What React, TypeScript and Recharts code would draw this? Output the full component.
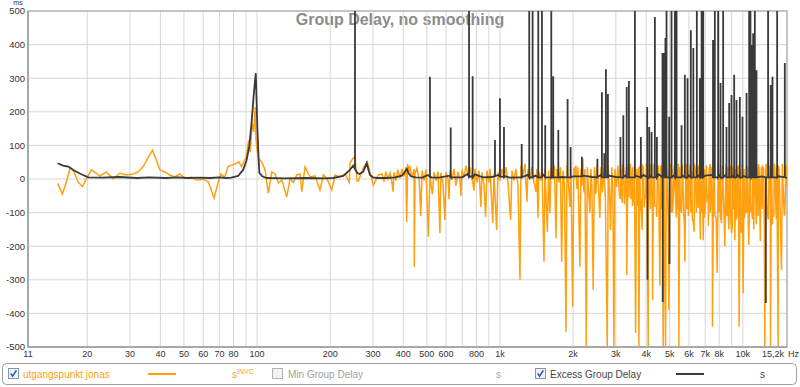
import React from 'react';
import { LineChart, Line, XAxis, YAxis, CartesianGrid, ReferenceArea } from 'recharts';

// frequency axis (Hz) - grid at every decade step, labels only on some
const freqTicks = [11.4, 20, 30, 40, 50, 60, 70, 80, 90, 100, 200, 300, 400, 500, 600, 700, 800, 900, 1000, 2000, 3000, 4000, 5000, 6000, 7000, 8000, 9000, 10000, 15200];
const freqLabels = ['11', '20', '30', '40', '50', '60', '70', '80', '', '100', '200', '300', '400', '500', '600', '', '800', '', '1k', '2k', '3k', '4k', '5k', '6k', '7k', '8k', '', '10k', '15,2k'];
const freqUnit = 'Hz';
const msTicks = [-500, -400, -300, -200, -100, 0, 100, 200, 300, 400, 500];

// utgangspunkt jonas: [Hz, ms]
const orangeLow: [number, number][] = [
  [15.1, -13], [15.8, -45], [16.4, -8], [17.0, 34], [17.5, 27], [18.3, -8], [19.1, -23], [19.8, 0], [20.8, 27], [21.8, 17],
  [22.5, 9], [24.0, 21], [25.5, 0], [27.2, 17], [29.0, 12], [30.9, 15], [32.4, 21], [34.0, 37], [35.4, 61], [37.1, 86],
  [38.5, 56], [39.8, 27], [41.7, 21], [43.7, 12], [45.8, 6], [48.1, 15], [50.4, 2], [53.7, 5], [56.3, -3], [60.0, -1],
  [62.9, -8], [64.5, -28], [66.5, -57], [68.7, -18], [70.9, 15], [73.6, 6], [76.0, 37], [78.9, 42], [82.2, 47], [84.1, 51],
  [86.2, 37], [90.4, 67], [92.3, 115], [93.8, 80], [95.4, 167], [97.0, 140], [98.1, 214], [99.0, 120], [99.7, 95], [101.2, 62],
  [104.5, 51], [107.9, 27], [111.3, -42], [114.9, 21], [118.6, 15], [122.4, -12], [126.4, -3], [132.5, -53], [136.7, 1], [141, -10],
  [145.7, 12], [150.3, 15], [152.8, -38], [157.6, 36], [165.2, 6], [173.3, 9], [181.6, -33], [187.4, 12], [193.6, 3], [203, -33],
  [209.4, 12], [219.5, 6], [230.2, 15], [239.8, -10], [241.4, 48], [249.1, 62], [253.1, 65], [258, -6], [261.2, -6], [273.8, 33],
  [284.4, 51], [293.7, 12], [301, -18], [315.7, 12],
];

const orangeMid: [number, number][] = [
  [327, 15], [333, -8], [339, 22], [346, 0], [353, 18], [359, -10], [363, -38], [366, 20], [373, -5], [380, 28],
  [388, 2], [395, 30], [403, 8], [410, 35], [413, -128], [417, 45], [422, 20], [426, 38], [434, 5], [443, 30],
  [444, -262], [447, 15], [455, 32], [465, 0], [472, -110], [478, 25], [487, -5], [496, 28], [507, -172], [515, 10],
  [527, -45], [535, 20], [546, -5], [556, 22], [566, -161], [571, 18], [582, -10], [594, -122], [600, 20], [611, 0],
  [617, -60], [623, 25], [635, 0], [647, 30], [659, -20], [672, 22], [685, -5], [691, -50], [698, 28], [711, 5],
  [725, 40], [739, 10], [753, 35], [767, 5], [782, -35], [789, 30], [804, -10], [820, 25], [835, -83], [843, 20],
  [859, -15], [873, -113], [884, 25], [901, -10], [910, 30], [934, -131], [945, 15], [969, -152], [981, 20], [1000, -5],
  [1019, 30], [1039, 0], [1058, 35], [1079, -10], [1106, -122], [1120, 25], [1142, -5], [1163, 30], [1186, -20], [1209, -300],
  [1220, 40], [1243, 10], [1267, 45], [1292, -68], [1304, 30], [1329, 0], [1354, 35], [1380, -10], [1407, -38], [1420, 30],
  [1434, -116], [1447, 20], [1475, -5], [1489, 35], [1518, -246], [1532, 30], [1567, -157], [1585, 25], [1606, -101], [1622, 35],
  [1653, 0], [1677, 40], [1701, -176], [1717, 30], [1750, -10], [1774, 35], [1795, -246], [1817, 25], [1844, -20], [1870, -455],
  [1888, 40], [1914, -10], [1941, -83], [1960, 30], [1992, -380], [2016, 35],
];

const orangeHigh: [number, number][] = [
  [2035, 5], [2055, 40], [2075, -30], [2094, 35], [2134, -261], [2154, 30], [2175, -20], [2196, 60], [2217, -40], [2238, 30],
  [2266, -500], [2289, 35], [2314, -30], [2346, -101], [2368, 30], [2391, -20], [2420, -330], [2449, 35], [2484, -45], [2507, 40],
  [2543, -25], [2579, -116], [2604, 35], [2642, -40], [2679, 30], [2718, -60], [2765, -500], [2792, 40], [2822, -30], [2854, -152],
  [2890, 35], [2918, -40], [2946, -500], [2974, 30], [3022, -24], [3060, 40], [3104, -50], [3148, 30], [3187, -71], [3226, 35],
  [3269, -40], [3326, -286], [3364, 40], [3396, -50], [3428, 30], [3461, -60], [3511, 35], [3561, -45], [3618, -458], [3652, 30],
  [3687, -80], [3733, -500], [3768, 40], [3804, -60], [3852, -152], [3896, 35], [3933, -70], [3980, -50], [4027, 40], [4078, -500],
  [4118, 30], [4163, -90], [4203, 35], [4250, -360], [4292, 40], [4344, -80], [4415, -113], [4457, 35], [4512, -70], [4554, -318],
  [4598, 40], [4641, -90], [4699, -500], [4744, 30], [4807, -500], [4851, 35], [4913, -80], [4959, -390], [5007, 40], [5054, -100],
  [5102, 30], [5166, -71], [5215, 35], [5285, -60], [5335, 30], [5401, -90], [5453, -500], [5504, 35], [5557, -80], [5594, -101],
  [5647, 40], [5717, -110], [5771, -246], [5826, 35], [5882, -90], [5938, 30], [5994, -83], [6051, 40], [6109, -100], [6167, 25],
  [6226, -120], [6305, -157], [6365, 30], [6442, -90], [6503, 35], [6553, -86], [6616, 30], [6685, -180], [6748, 35], [6800, -101],
  [6868, -182], [6931, 30], [7008, -90], [7076, 35], [7144, -70], [7199, -45], [7268, 30], [7348, -100], [7418, 35], [7500, -440],
  [7573, 30], [7669, -110], [7742, -113], [7838, -280], [7912, 35], [8002, -100], [8079, 30], [8172, -131], [8250, 35], [8352, -90],
  [8431, -200], [8512, 30], [8593, -110], [8675, 35], [8757, -150], [8840, 30], [8924, -120], [8983, -161], [9069, 35], [9182, -90],
  [9269, -182], [9358, 30], [9447, -110], [9537, 35], [9655, -440], [9747, 30], [9877, -161], [9966, 35], [10024, -340], [10121, 30],
  [10240, -90], [10358, -101], [10456, 35], [10587, -196], [10686, 30], [10788, -100], [10858, -80], [10994, 35], [11099, -150], [11204, 30],
  [11311, -70], [11419, 35], [11561, -110], [11671, 30], [11805, -185], [11917, 35], [12030, -90], [12174, 30], [12318, -500], [12436, 35],
  [12554, -80], [12705, -120], [12827, 30], [12999, -500], [13123, 35], [13288, -90], [13414, -113], [13542, 30], [13671, -80], [13801, 35],
  [13972, -500], [14106, 30], [14241, -90], [14432, -270], [14570, 30], [14749, -80], [14889, -101], [15031, 35], [15171, -20],
];

// extra strands in the dense band above 3 kHz
const orangeDense: [number, number][] = [
  [3133, -60], [3193, 40], [3254, -75], [3317, 35], [3380, -55], [3445, 45], [3514, -80], [3578, 40], [3646, -70], [3716, 35],
  [3786, -95], [3859, 40], [3930, -85], [4008, 45], [4085, -75], [4166, 40], [4243, -100], [4324, 45], [4407, -80], [4491, 40],
  [4576, -110], [4664, 45], [4753, -95], [4844, 40], [4937, -120], [5031, 45], [5127, -100], [5225, 40], [5325, -115], [5427, 45],
  [5530, -95], [5637, 40], [5744, -130], [5854, 45], [5966, -110], [6080, 40], [6196, -125], [6315, 45], [6436, -100], [6559, 40],
  [6690, -130], [6812, 45], [6942, -115], [7070, 40], [7211, -140], [7340, 45], [7489, -105], [7632, 40], [7779, -130], [7927, 45],
  [8085, -110], [8234, 40], [8391, -135], [8552, 45], [8716, -115], [8882, 40], [9053, -140], [9226, 45], [9402, -120], [9582, 40],
  [9766, -130], [9953, 45], [10143, -115], [10338, 40], [10535, -140], [10737, 45], [10943, -120], [11152, 40], [11365, -135], [11583, 45],
  [11810, -110], [12035, 40], [12260, -130], [12495, 45], [12734, -115], [12977, 40], [13226, -135], [13478, 45], [13736, -120], [13999, 40],
  [14268, -125], [14541, 45], [14819, -110], [15102, 40],
];

// Excess Group Delay: smooth trace [Hz, ms] and narrow spikes [Hz, foot ms, tip ms]
const excessBase: [number, number][] = [
  [15.1, 47], [15.9, 40], [16.7, 37], [17.5, 27], [18.9, 14], [20.2, 5], [23, 4], [27, 6], [32, 3], [36, 5],
  [42, 3], [47, 5], [52, 3], [58, 4], [64, 3], [70, 5], [75, 3], [78.2, 4], [83.5, 9], [87.6, 27],
  [90.5, 55], [93, 100], [95, 170], [97, 255], [98.8, 315], [100.3, 150], [101.5, 60], [102.2, 18], [105, 8], [109.6, 3],
  [130, 2], [160, 3], [190, 2], [205.6, 3], [226.5, 9], [241, 27], [249, 40], [258.8, 18], [264, 15], [273.8, 22],
  [282.8, 47], [288, 25], [291.7, 12], [300, 5], [311, 3], [340, 3], [370, 5], [395, 10], [405, 20], [414, 30],
  [420, 18], [430, 8], [450, 5], [480, 4], [505, 12], [525, 5], [560, 4], [620, 10], [640, 5], [700, 5], [735, 15], [760, 8],
  [790, 14], [850, 5], [920, 6], [980, 12], [1050, 8], [1100, 4], [1200, 5], [1300, 12], [1400, 10], [1500, 14], [1650, 10],
  [1800, 6], [2000, 8], [2200, 10], [2400, 6], [2600, 12], [2800, 10], [3000, 6], [3300, 12], [3600, 10], [3900, 12],
  [4200, 10], [4500, 14], [4800, 12], [5200, 10], [5600, 12], [6000, 10], [6500, 12], [7000, 10], [7500, 12], [8000, 10],
  [8500, 12], [9000, 10], [9500, 12], [10000, 10], [11000, 12], [12000, 8], [13000, 6], [14000, 8], [15171, 3],
];

const excessSpikes: [number, number, number][] = [
  [253, 30, 700], [515, 6, 304], [627, 5, 153], [746, 5, 700], [772, 5, 306], [954, 8, 116], [1000, 8, 240], [1039, 6, 155],
  [1229, 5, 104], [1320, 5, 700], [1363, 5, 700], [1438, 5, 700], [1489, 5, 700], [1536, 5, 160], [1627, 5, 700], [1657, 5, 306],
  [1739, 5, 146], [1899, 5, 238], [1954, 5, 95], [2175, 8, 66], [2519, 5, 60], [2629, 5, 258], [2689, 5, 77], [2731, 5, 327],
  [2783, 5, 253], [3133, 5, 125], [3221, 5, 190], [3326, 5, 274], [3396, 5, 292], [3594, 5, 700], [3804, 5, 125], [4039, 5, 214],
  [4050, 5, -300], [4118, 5, 155], [4211, 5, 140], [4344, 5, 482], [4428, 5, 125], [4669, 5, 375], [4680, 5, -366], [4744, 5, 375],
  [4800, 5, 420], [4851, 5, 700], [4974, 5, 185], [4990, 5, -253], [5087, 5, 700], [5250, 5, 700], [5335, 5, 700], [5594, 5, 160],
  [5771, 5, 310], [5921, 5, 300], [6109, 5, 443], [6255, 5, 390], [6466, 5, 700], [6653, 5, 300], [6764, 5, 700], [6868, 5, 700],
  [7538, 5, 414], [7669, 5, 700], [7912, 5, 700], [8095, 5, 286], [8298, 5, 700], [8566, 5, 155], [8785, 5, 226], [8983, 5, 250],
  [9212, 5, 310], [9418, 5, 235], [9720, 5, 244], [9966, 5, 185], [10358, 5, 256], [10616, 5, 700], [10750, 5, 500], [10858, 5, 399],
  [11030, 5, 434], [11204, 5, 700], [11383, 5, 324], [12436, 5, -369], [12705, 5, 700], [13019, 5, 280], [13247, 5, 304], [13845, 5, 700],
  [14889, 5, 345],
];

const orangeData = [...orangeLow, ...orangeMid, ...orangeHigh, ...orangeDense]
  .map(([f, v]) => ({ f, v }))
  .sort((a, b) => a.f - b.f);
const excessData = [
  ...excessBase.map(([f, v]) => ({ f, v })),
  ...excessSpikes.flatMap(([f, foot, tip]) => [{ f, v: foot }, { f, v: tip }, { f, v: foot }]),
].sort((a, b) => a.f - b.f);

const FONT = '"Liberation Sans", Arial, sans-serif';
const ORANGE = '#ffa010';
const DARK = '#3a3a3a';

const FreqTick = ({ x, y, payload }: any) => {
  const label = freqLabels[freqTicks.indexOf(payload.value)] ?? '';
  if (payload.value === 15200) {
    return (
      <g fontFamily={FONT} fontSize={9} fill="#333">
        <text x={x - 3} y={y} dy="0.71em" textAnchor="end">{label}</text>
        <text x={x + 1} y={y} dy="0.71em" textAnchor="start">{freqUnit}</text>
      </g>
    );
  }
  return (
    <text x={x} y={y} dy="0.71em" textAnchor="middle" fontFamily={FONT} fontSize={9} fill="#333">{label}</text>
  );
};

const MsTick = ({ x, y, payload }: any) => (
  <text x={x} y={y} dy="0.355em" textAnchor="end" fontFamily={FONT} fontSize={9.5} fill="#333">{payload.value}</text>
);

const CheckBox = ({ left, checked }: { left: number; checked: boolean }) => (
  <g transform={`translate(${left},6)`}>
    <rect x={0.5} y={0.5} width={10} height={10} fill="#f3f3f3" stroke={checked ? '#7d97b5' : '#b4b4b4'} />
    {checked && <path d="M2.6 5.4 L4.6 8.2 L8.4 2.4" stroke="#2b5ca8" strokeWidth={1.6} fill="none" />}
  </g>
);

const GroupDelayChart = () => {
  return (
    <div style={{ position: 'relative', width: 800, height: 387, background: '#fff', overflow: 'hidden' }}>
      <style>{'body{margin:0}'}</style>
      <svg width={800} height={40} style={{ position: 'absolute', left: 0, top: 0 }}>
        <text x={400} y={25} textAnchor="middle" fontFamily={FONT} fontWeight="bold" fontSize={16} fill="#8c8c8c">
          Group Delay, no smoothing
        </text>
        <text x={18} y={5} textAnchor="middle" fontFamily={FONT} fontSize={7} fill="#333">ms</text>
      </svg>
      <div style={{ position: 'absolute', left: 0, top: 0 }}>
        <LineChart width={800} height={387} margin={{ top: 11, right: 13, bottom: 25, left: 0 }}>
          <CartesianGrid stroke="#d6d6d6" strokeWidth={1} />
          <XAxis
            dataKey="f"
            type="number"
            scale="log"
            domain={[11.4, 15200]}
            allowDataOverflow
            ticks={freqTicks}
            interval={0}
            height={15}
            tickLine={false}
            tickSize={0}
            tickMargin={4}
            axisLine={{ stroke: '#a8a8a8', strokeWidth: 2 }}
            tick={<FreqTick />}
          />
          <YAxis
            type="number"
            domain={[-500, 500]}
            allowDataOverflow
            ticks={msTicks}
            interval={0}
            width={28}
            tickLine={false}
            tickSize={0}
            tickMargin={3}
            axisLine={{ stroke: '#a8a8a8', strokeWidth: 2 }}
            tick={<MsTick />}
          />
          <ReferenceArea x1={11.4} x2={15200} y1={-500} y2={500} fill="none" stroke="#b8b8b8" strokeWidth={1.5} />
          <Line data={orangeData} dataKey="v" type="linear" stroke={ORANGE} strokeWidth={1.5} dot={false} activeDot={false} isAnimationActive={false} />
          <Line data={excessData} dataKey="v" type="linear" stroke={DARK} strokeWidth={1.8} dot={false} activeDot={false} isAnimationActive={false} />
        </LineChart>
      </div>
      <svg width={800} height={24} style={{ position: 'absolute', left: 0, top: 362 }} fontFamily={FONT} fontSize={10}>
        <rect x={2.5} y={1.5} width={794} height={21} rx={4} fill="#fff" stroke="#a0a0a0" />
        <CheckBox left={8} checked />
        <text x={23} y={15.5} fill={ORANGE}>utgangspunkt jonas</text>
        <line x1={148} x2={176} y1={12} y2={12} stroke={ORANGE} strokeWidth={2} />
        <text x={232} y={15.5} fill={ORANGE}>s<tspan fontSize={7} dy={-4}>INVC</tspan></text>
        <CheckBox left={272} checked={false} />
        <text x={288} y={15.5} fill="#a0a0a0">Min Group Delay</text>
        <text x={496} y={15.5} fill="#a0a0a0">s</text>
        <CheckBox left={535} checked />
        <text x={550} y={15.5} fill="#444">Excess Group Delay</text>
        <line x1={676} x2={704} y1={12} y2={12} stroke={DARK} strokeWidth={2} />
        <text x={760} y={15.5} fill="#444">s</text>
      </svg>
    </div>
  );
};

export default GroupDelayChart;
